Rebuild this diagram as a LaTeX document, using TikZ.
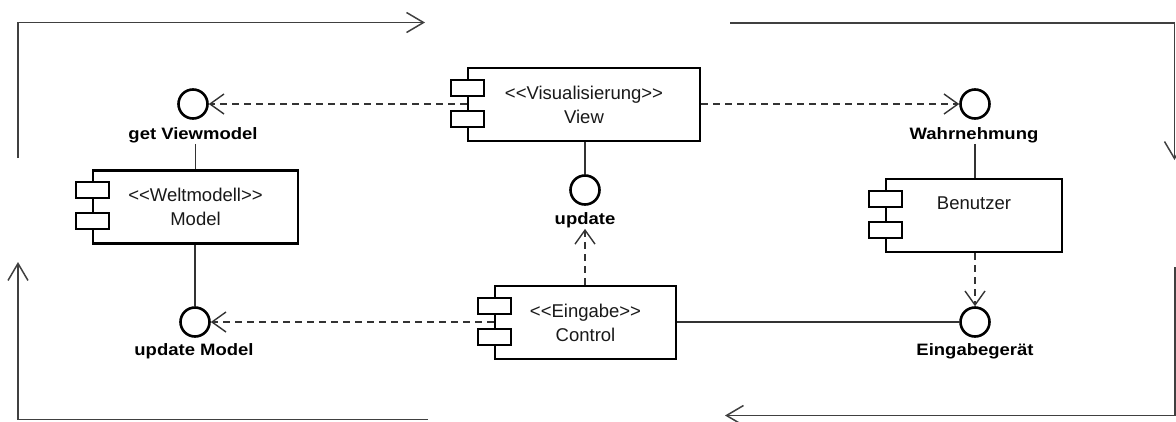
\documentclass[tikz,border=0pt]{standalone}
\usepackage{fontspec}
\setmainfont{Liberation Sans}
\newfontfamily\compfont{Liberation Sans}[Ligatures=TeXOff]
\newfontfamily\lblfont{Liberation Sans}[FakeStretch=1.12]
\usetikzlibrary{arrows.meta,calc}
\begin{document}
\begin{tikzpicture}[x=1pt,y=-1pt,
  comp/.style={draw, line width=2.6pt, fill=white, inner sep=0pt, minimum height=73pt,
    align=center, font=\compfont\fontsize{18.5}{24}\selectfont, text=black!90},
  subrect/.style={draw, line width=2.4pt, fill=white},
  iface/.style={circle, draw, line width=2.6pt, minimum size=29pt, inner sep=0pt},
  lbl/.style={inner sep=1pt, font=\lblfont\bfseries\fontsize{16.5}{18}\selectfont},
  conn/.style={line width=1.4pt, draw=black!80},
  dep/.style={line width=1.4pt, draw=black!80, dash pattern=on 7pt off 5pt,
    -{Straight Barb[length=14pt,width=20pt,line width=1.4pt]}},
  flow/.style={line width=1.5pt, draw=black!75,
    -{Straight Barb[length=17pt,width=20pt,line width=1.5pt]}}
]
\useasboundingbox (0,0) rectangle (1176,421);

% flow arrows round the picture
\coordinate (c1) at (18,158);
\coordinate (c2) at (18,22.5);
\coordinate (c3) at (425,22.5);
\coordinate (c4) at (730,23);
\coordinate (c5) at (1174.5,23);
\coordinate (c6) at (1174.5,160);
\coordinate (c7) at (1175,267);
\coordinate (c8) at (1175,415.5);
\coordinate (c9) at (725,415.5);
\coordinate (c10) at (428,419.5);
\coordinate (c11) at (18,419.5);
\coordinate (c12) at (18,262);
\draw[flow] (c1) -- (c2) -- (c3);
\draw[flow] (c4) -- (c5) -- (c6);
\draw[flow] (c7) -- (c8) -- (c9);
\draw[flow] (c10) -- (c11) -- (c12);

% components
\node[comp, minimum width=232pt] (v) at (584,104.5) {<<Visualisierung>>\\View};
\node[comp, minimum width=205pt] (m) at (195.5,207) {<<Weltmodell>>\\Model};
\node[comp, minimum width=181pt] (ct) at (585.5,322.5) {<<Eingabe>>\\Control};
\node[comp, minimum width=176pt] (b) at (974,215.5) {Benutzer\\\mbox{}};

% interfaces
\node[iface] (gv) at (193,104) {};
\node[lbl] (gvl) at (193,135) {get Viewmodel};
\node[iface] (um) at (195,322) {};
\node[lbl] (uml) at (194,351) {update Model};
\node[iface] (up) at (585,190) {};
\node[lbl] (upl) at (585,220) {update};
\node[iface] (wa) at (975,104) {};
\node[lbl] (wal) at (974,135) {Wahrnehmung};
\node[iface] (eg) at (975,322) {};
\node[lbl] (egl) at (975,351) {Eingabegerät};

% connectors
\draw[dep] (v.west |- gv.east) -- (gv.east);
\draw[dep] (v.east |- wa.west) -- (wa.west);
\draw[conn] (v.south -| up.north) -- (up.north);
\draw[dep] (ct.north -| upl.south) -- (upl.south);
\draw[dep] (ct.west |- um.east) -- (um.east);
\draw[conn] (ct.east |- eg.west) -- (eg.west);
\draw[conn] (gvl.south -| m.north) -- (m.north);
\draw[conn] (m.south -| um.north) -- (um.north);
\draw[conn] (wal.south -| wa.south) -- (b.north -| wa.south);
\draw[dep] (b.south -| eg.north) -- (eg.north);

% component icons
\foreach \c in {v,m,ct,b}{
  \draw[subrect] ($(\c.north west)+(-16,13)$) rectangle ++(33,16);
  \draw[subrect] ($(\c.north west)+(-16,44)$) rectangle ++(33,16);
}
\end{tikzpicture}
\end{document}
